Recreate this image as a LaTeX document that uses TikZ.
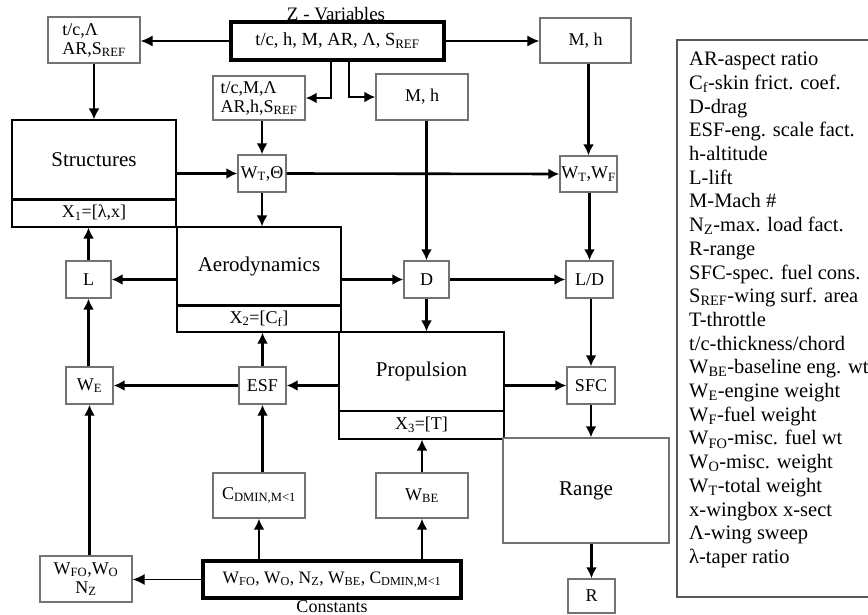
\documentclass[tikz,border=0pt]{standalone}
\usepackage{fontspec}
\setmainfont{Liberation Serif}
\usetikzlibrary{arrows.meta, calc}
\tikzset{
    varBox/.style={rectangle, draw=black!55, line width=1.4pt, fill=white, inner sep=0pt, align=center, font=\fontsize{18}{19}\selectfont},
    discBox/.style={rectangle, draw=black, line width=1.1pt, fill=white, inner sep=0pt, font=\fontsize{21}{23}\selectfont},
    desBox/.style={rectangle, draw=black, line width=1.1pt, fill=white, inner sep=0pt, font=\fontsize{18}{20}\selectfont},
    keyBox/.style={rectangle, draw=black, line width=3.5pt, fill=white, inner sep=0pt, font=\fontsize{18.5}{21}\selectfont},
    boxSize/.style 2 args={minimum width=#1pt, minimum height=#2pt},
    flowLine/.style={-{Latex[length=11pt, width=11pt]}, line width=2.6pt},
    feedLine/.style={-{Latex[length=12pt, width=11pt]}, line width=1.2pt},
    divLine/.style={line width=3pt}
}

\begin{document}
\begin{tikzpicture}[x=1pt, y=-1pt]
        \useasboundingbox (0,0) rectangle (868,615);

        % 1. Design and constant inputs
        \node[anchor=base, font=\fontsize{19}{21}\selectfont] (zLabel) at (336,21) {Z - Variables};
        \node[keyBox, boxSize={213}{38}] (zVar) at (337.5,41) {t/c, h, M, AR, Λ, S\textsubscript{REF}};
        \node[anchor=base, font=\fontsize{18}{20}\selectfont] (cLabel) at (332,612.5) {Constants};
        \node[keyBox, boxSize={258}{37}, font=\fontsize{17.5}{20}\selectfont] (const) at (332,579.5)
            {W\textsubscript{FO}, W\textsubscript{O}, N\textsubscript{Z}, W\textsubscript{BE}, C\textsubscript{DMIN,M<1}};

        % 2. Variable boxes
        \node[varBox, boxSize={92}{46}, align=left] (tcL) at (94,40) {t/c,Λ\\AR,S\textsubscript{REF}};
        \node[varBox, boxSize={91}{45}] (mhTop) at (585.5,40.5) {M, h};
        \node[varBox, boxSize={92}{44}, align=left] (tcM) at (259,98) {t/c,M,Λ\\AR,h,S\textsubscript{REF}};
        \node[varBox, boxSize={92}{46}] (mhMid) at (422,97) {M, h};
        \node[varBox, boxSize={48}{37}] (wtTheta) at (262,173.5) {W\textsubscript{T},Θ};
        \node[varBox, boxSize={57}{36}] (wtWf) at (588.5,174) {W\textsubscript{T},W\textsubscript{F}};
        \node[varBox, boxSize={45}{37}] (lift) at (88.5,279.5) {L};
        \node[varBox, boxSize={45}{37}] (drag) at (426.5,279.5) {D};
        \node[varBox, boxSize={47}{37}] (ld) at (589.5,279.5) {L/D};
        \node[varBox, boxSize={47}{37}] (we) at (89.5,385.5) {W\textsubscript{E}};
        \node[varBox, boxSize={47}{37}] (esf) at (262.5,385.5) {ESF};
        \node[varBox, boxSize={48}{37}] (sfc) at (591,385.5) {SFC};
        \node[varBox, boxSize={92}{45}] (cdMin) at (259,495.5) {C\textsubscript{DMIN,M<1}};
        \node[varBox, boxSize={92}{45}] (wbe) at (422,495.5) {W\textsubscript{BE}};
        \node[varBox, boxSize={92}{46}] (wfo) at (86,579) {W\textsubscript{FO},W\textsubscript{O}\\N\textsubscript{Z}};
        \node[varBox, boxSize={47}{34}] (range) at (591.5,596) {R};

        % 3. Disciplines with their local design variables
        \node[discBox, boxSize={164}{79}] (struct) at (94,159.5) {Structures};
        \node[desBox, boxSize={164}{28}] (xOne) at (94,213) {X\textsubscript{1}=[λ,x]};
        \draw[divLine] (struct.south west) -- (struct.south east);
        \node[discBox, boxSize={164}{78}] (aero) at (259,266) {Aerodynamics};
        \node[desBox, boxSize={164}{27}] (xTwo) at (259,318.5) {X\textsubscript{2}=[C\textsubscript{f}]};
        \draw[divLine] (aero.south west) -- (aero.south east);
        \node[discBox, boxSize={165}{79}] (prop) at (421.5,371.5) {Propulsion};
        \node[desBox, boxSize={165}{28}] (xThree) at (421.5,425) {X\textsubscript{3}=[T]};
        \draw[line width=1.6pt] (prop.south west) -- (prop.south east);
        \node[discBox, draw=black!55, line width=1.4pt, boxSize={166}{105}] (rangeDisc) at (586,490.5) {Range};

        % 4. Inputs from the top
        \draw[feedLine] (zVar.west) -- (zVar.west -| tcL.east);
        \draw[feedLine] (zVar.east) -- (zVar.east -| mhTop.west);
        \draw[flowLine] ($(zVar.south)+(-6.5,0)$) |- (tcM.east);
        \draw[flowLine] ($(zVar.south)+(11.5,0)$) |- (mhMid.west);
        \draw[flowLine] (tcL.south) -- (struct.north);
        \draw[flowLine] (wtTheta.north |- tcM.south) -- (wtTheta.north);
        \draw[flowLine] (wtWf.north |- mhTop.south) -- (wtWf.north);

        % 5. Coupling between the disciplines
        \draw[flowLine] (struct.east |- wtTheta.west) -- (wtTheta.west);
        \draw[flowLine] (wtTheta.east) -- (wtWf.west);
        \draw[flowLine] (drag.north |- mhMid.south) -- (drag.north);
        \draw[flowLine] (wtTheta.south) -- (wtTheta.south |- aero.north);
        \draw[flowLine] (aero.west |- lift.east) -- (lift.east);
        \draw[flowLine] (aero.east |- drag.west) -- (drag.west);
        \draw[flowLine] (drag.east) -- (ld.west);
        \draw[flowLine] (ld.north |- wtWf.south) -- (ld.north);
        \draw[flowLine] (drag.south) -- (drag.south |- prop.north);
        \draw[flowLine] (sfc.north |- ld.south) -- (sfc.north);
        \draw[flowLine] (xThree.east |- sfc.west) -- (sfc.west);
        \draw[flowLine] (sfc.south) -- (sfc.south |- rangeDisc.north);
        \draw[flowLine] (range.north |- rangeDisc.south) -- (range.north);
        \draw[flowLine] (lift.north) -- (lift.north |- xOne.south);
        \draw[flowLine] (lift.south |- we.north) -- (lift.south);
        \draw[flowLine] (esf.west) -- (we.east);
        \draw[flowLine] (esf.north) -- (esf.north |- xTwo.south);
        \draw[flowLine] (prop.west |- esf.east) -- (esf.east);

        % 6. Inputs from the bottom
        \draw[flowLine] (we.south |- wfo.north) -- (we.south);
        \draw[flowLine] (esf.south |- cdMin.north) -- (esf.south);
        \draw[flowLine] (cdMin.south |- const.north) -- (cdMin.south);
        \draw[flowLine] (wbe.south |- const.north) -- (wbe.south);
        \draw[flowLine] (wbe.north) -- (wbe.north |- xThree.south);
        \draw[feedLine] (const.west) -- (const.west -| wfo.east);

        % 7. Legend
        \draw[draw=black!65, line width=1.5pt] (677,40) rectangle (900,597);
        \node[anchor=north west, inner sep=0pt, align=left, font=\fontsize{20.5}{23.7}\selectfont] (legend) at (689,52)
            {AR-aspect ratio\\
             C\textsubscript{f}-skin frict. coef.\\
             D-drag\\
             ESF-eng. scale fact.\\
             h-altitude\\
             L-lift\\
             M-Mach \#\\
             N\textsubscript{Z}-max. load fact.\\
             R-range\\
             SFC-spec. fuel cons.\\
             S\textsubscript{REF}-wing surf. area\\
             T-throttle\\
             t/c-thickness/chord\\
             W\textsubscript{BE}-baseline eng. wt\\
             W\textsubscript{E}-engine weight\\
             W\textsubscript{F}-fuel weight\\
             W\textsubscript{FO}-misc. fuel wt\\
             W\textsubscript{O}-misc. weight\\
             W\textsubscript{T}-total weight\\
             x-wingbox x-sect\\
             Λ-wing sweep\\
             λ-taper ratio};

\end{tikzpicture}
\end{document}
